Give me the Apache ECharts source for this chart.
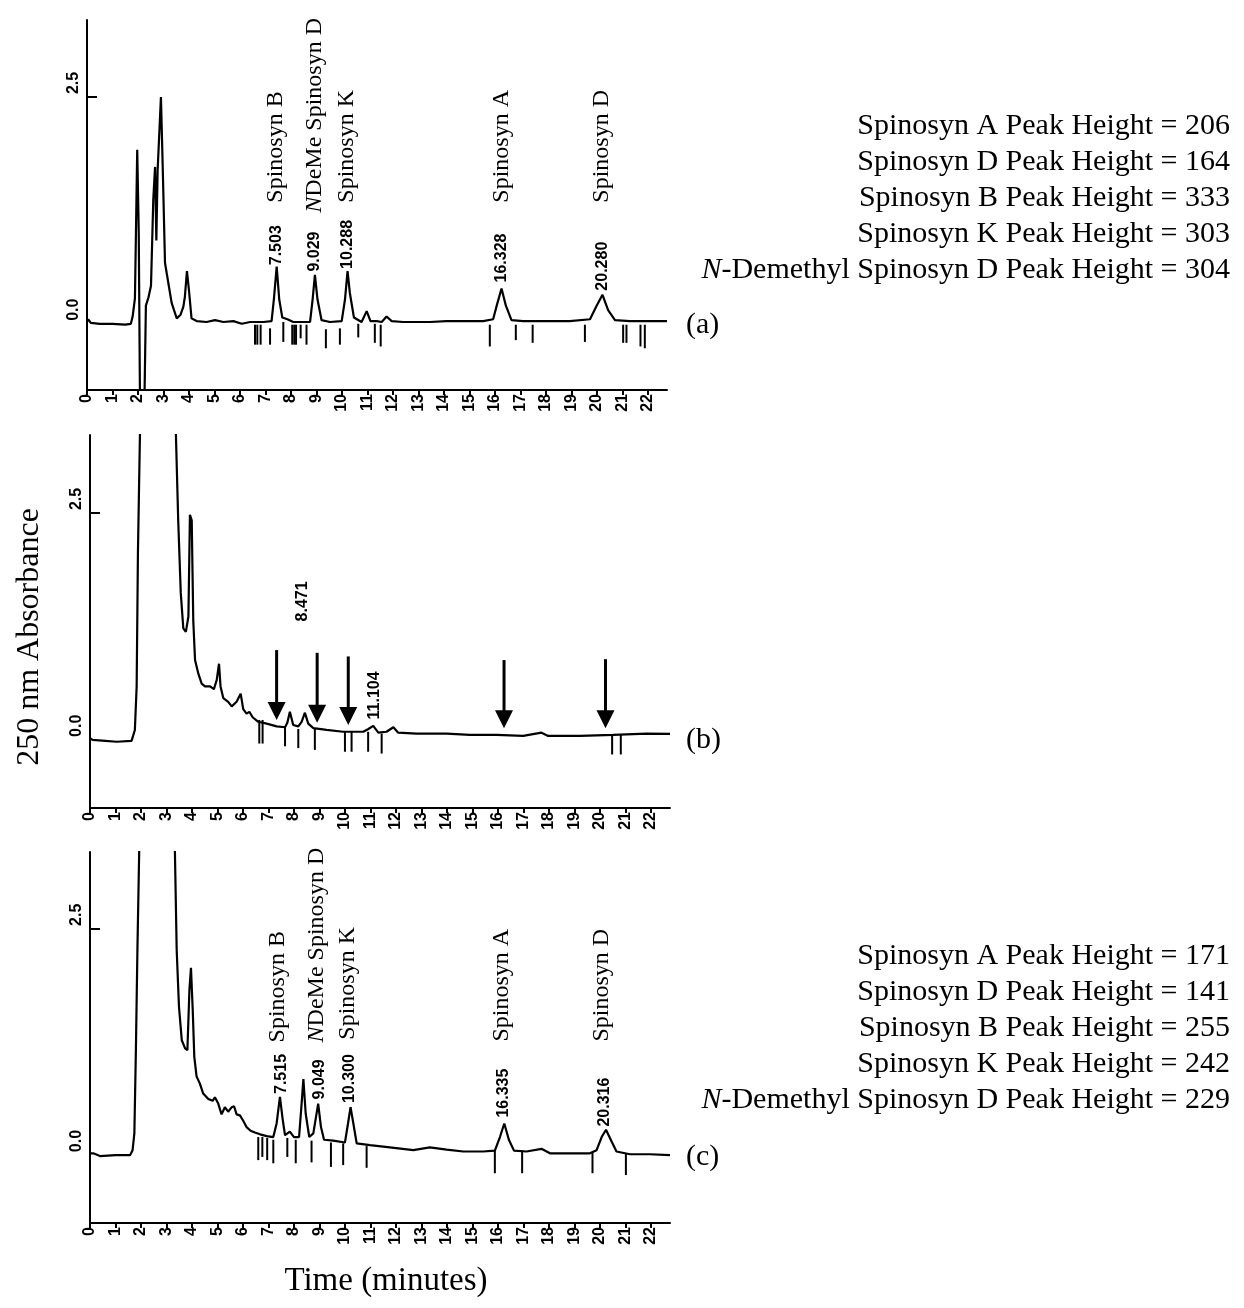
<!DOCTYPE html>
<html>
<head>
<meta charset="utf-8">
<title>Spinosyn HPLC chromatograms</title>
<script src="https://cdn.jsdelivr.net/npm/echarts@6/dist/echarts.min.js"></script>
<style>
  html, body { margin: 0; padding: 0; background: #fff; }
  #chart { width: 1244px; height: 1308px; }
</style>
</head>
<body>
<div id="chart"></div>
<script>
// chromatogram traces: [time (min), absorbance]
var traceA = [[0, 0.02], [0.05, 0.05], [0.15, 0.01], [0.5, 0.0], [1.0, 0.0], [1.5, -0.01], [1.72, 0.0], [1.79, 0.08], [1.88, 0.28], [1.97, 1.92], [2.03, 1.0], [2.08, -0.9], [2.25, -0.9], [2.31, 0.2], [2.41, 0.29], [2.51, 0.42], [2.6, 1.37], [2.67, 1.73], [2.72, 0.92], [2.77, 1.69], [2.9, 2.5], [2.97, 1.73], [3.06, 0.67], [3.19, 0.45], [3.32, 0.23], [3.52, 0.06], [3.67, 0.1], [3.78, 0.19], [3.84, 0.3], [3.92, 0.58], [4.0, 0.37], [4.1, 0.06], [4.3, 0.03], [4.69, 0.02], [5.02, 0.04], [5.35, 0.02], [5.74, 0.03], [6.07, 0.0], [6.4, 0.02], [6.92, 0.02], [7.24, 0.03], [7.33, 0.27], [7.44, 0.63], [7.54, 0.27], [7.66, 0.07], [7.86, 0.05], [8.09, 0.02], [8.75, 0.02], [8.85, 0.27], [8.94, 0.54], [9.04, 0.27], [9.2, 0.04], [9.53, 0.02], [9.99, 0.03], [10.12, 0.27], [10.22, 0.58], [10.31, 0.34], [10.47, 0.07], [10.77, 0.02], [10.97, 0.14], [11.12, 0.03], [11.36, 0.03], [11.56, 0.02], [11.75, 0.08], [11.95, 0.03], [12.4, 0.02], [13.45, 0.02], [14.1, 0.03], [14.76, 0.03], [15.54, 0.03], [15.93, 0.05], [16.07, 0.2], [16.26, 0.39], [16.43, 0.2], [16.65, 0.04], [17.11, 0.03], [18.03, 0.03], [18.94, 0.03], [19.73, 0.05], [19.99, 0.2], [20.22, 0.32], [20.44, 0.15], [20.71, 0.04], [21.29, 0.03], [22.08, 0.03], [22.75, 0.03]];

var traceB = [[0, 0.02], [0.1, 0.0], [0.6, -0.01], [1.05, -0.02], [1.63, -0.01], [1.76, 0.11], [1.83, 0.59], [1.88, 2.06], [1.96, 3.38], [2.1, 5.0], [3.2, 5.0], [3.37, 3.36], [3.46, 2.42], [3.56, 1.62], [3.66, 1.23], [3.76, 1.19], [3.86, 1.36], [3.92, 2.48], [3.99, 2.42], [4.05, 1.32], [4.12, 0.88], [4.25, 0.73], [4.38, 0.62], [4.51, 0.59], [4.71, 0.59], [4.86, 0.56], [4.97, 0.66], [5.06, 0.84], [5.12, 0.59], [5.23, 0.46], [5.42, 0.42], [5.56, 0.37], [5.75, 0.42], [5.91, 0.51], [6.01, 0.34], [6.14, 0.29], [6.25, 0.31], [6.38, 0.25], [6.6, 0.2], [6.93, 0.18], [7.32, 0.15], [7.65, 0.14], [7.74, 0.19], [7.84, 0.31], [7.97, 0.165], [8.17, 0.15], [8.3, 0.2], [8.43, 0.3], [8.56, 0.18], [8.76, 0.13], [9.28, 0.11], [9.93, 0.09], [10.72, 0.09], [10.92, 0.12], [11.11, 0.155], [11.31, 0.08], [11.63, 0.09], [11.9, 0.14], [12.09, 0.08], [12.81, 0.07], [13.99, 0.07], [14.9, 0.055], [15.95, 0.055], [16.99, 0.044], [17.71, 0.08], [17.97, 0.044], [19.22, 0.044], [20.52, 0.055], [21.83, 0.07], [22.75, 0.066]];

var traceC = [[0, 0.02], [0.13, 0.02], [0.39, -0.01], [1.0, 0.0], [1.57, 0.0], [1.67, 0.055], [1.74, 0.24], [1.8, 1.16], [1.86, 2.27], [1.93, 3.36], [2.1, 5.0], [3.2, 5.0], [3.33, 3.36], [3.4, 2.27], [3.49, 1.64], [3.6, 1.27], [3.73, 1.18], [3.82, 1.16], [3.9, 1.83], [3.96, 2.07], [4.03, 1.6], [4.09, 1.09], [4.18, 0.87], [4.31, 0.79], [4.44, 0.68], [4.64, 0.62], [4.81, 0.6], [4.9, 0.64], [5.03, 0.57], [5.16, 0.45], [5.29, 0.53], [5.42, 0.48], [5.56, 0.53], [5.65, 0.54], [5.75, 0.45], [5.88, 0.44], [6.01, 0.38], [6.14, 0.31], [6.3, 0.27], [6.47, 0.25], [6.67, 0.23], [6.93, 0.21], [7.19, 0.2], [7.32, 0.35], [7.45, 0.645], [7.56, 0.39], [7.65, 0.22], [7.84, 0.26], [8.0, 0.2], [8.2, 0.2], [8.29, 0.53], [8.37, 0.84], [8.46, 0.46], [8.6, 0.2], [8.76, 0.24], [8.95, 0.57], [9.06, 0.31], [9.18, 0.17], [9.54, 0.16], [10.0, 0.14], [10.12, 0.35], [10.22, 0.53], [10.33, 0.35], [10.46, 0.13], [10.98, 0.11], [11.76, 0.085], [12.68, 0.055], [13.33, 0.085], [13.99, 0.06], [14.64, 0.04], [15.42, 0.04], [15.88, 0.05], [16.08, 0.2], [16.25, 0.35], [16.43, 0.17], [16.63, 0.05], [17.12, 0.04], [17.71, 0.07], [18.04, 0.02], [18.56, 0.02], [19.61, 0.02], [19.87, 0.055], [20.07, 0.2], [20.24, 0.28], [20.46, 0.15], [20.65, 0.04], [21.18, 0.01], [21.96, 0.01], [22.75, 0.0]];

// integrator event marks under the trace: [time, top, bottom]
var marksA = [[6.59, -0.01, -0.23], [6.68, -0.01, -0.23], [6.81, -0.01, -0.23], [7.18, -0.05, -0.23], [7.7, 0.02, -0.2], [8.05, -0.01, -0.23], [8.13, -0.01, -0.23], [8.2, -0.01, -0.23], [8.38, -0.01, -0.16], [8.61, -0.01, -0.23], [9.37, -0.06, -0.27], [9.92, -0.05, -0.23], [10.64, 0.0, -0.15], [11.29, 0.0, -0.21], [11.52, -0.01, -0.25], [15.8, -0.01, -0.25], [16.82, -0.01, -0.18], [17.48, -0.01, -0.21], [19.53, -0.01, -0.2], [21.03, -0.01, -0.21], [21.16, -0.01, -0.21], [21.71, -0.01, -0.25], [21.88, -0.01, -0.27]];
var marksB = [[6.64, 0.22, -0.04], [6.77, 0.22, -0.04], [7.65, 0.14, -0.07], [8.17, 0.12, -0.09], [8.82, 0.12, -0.11], [10.0, 0.09, -0.13], [10.26, 0.09, -0.13], [10.91, 0.09, -0.13], [11.44, 0.07, -0.15], [20.48, 0.055, -0.16], [20.82, 0.055, -0.16]];
var marksC = [[6.6, 0.2, -0.055], [6.76, 0.2, -0.02], [6.95, 0.19, -0.055], [7.19, 0.17, -0.09], [7.74, 0.19, -0.02], [8.07, 0.17, -0.09], [8.69, 0.16, -0.08], [9.45, 0.14, -0.13], [9.93, 0.13, -0.11], [10.85, 0.1, -0.14], [15.88, 0.05, -0.2], [16.95, 0.05, -0.2], [19.71, 0.03, -0.2], [21.02, 0.02, -0.22]];

// arrows in panel (b): [time, top, tip]
var arrowsB = [[7.32, 0.99, 0.22], [8.91, 0.96, 0.19], [10.13, 0.92, 0.165], [16.24, 0.88, 0.13], [20.22, 0.89, 0.13]];

// retention time labels: [text, time, y]
var rtLabelsA = [['7.503', 7.44, 0.64], ['9.029', 8.94, 0.57], ['10.288', 10.21, 0.6], ['16.328', 16.26, 0.45], ['20.280', 20.21, 0.36]];
var rtLabelsB = [['8.471', 8.35, 1.3], ['11.104', 11.18, 0.22]];
var rtLabelsC = [['7.515', 7.52, 0.67], ['9.049', 8.99, 0.61], ['10.300', 10.2, 0.57], ['16.335', 16.24, 0.41], ['20.316', 20.2, 0.31]];

// compound labels: [text, time, y]
var nameLabelsA = [['Spinosyn B', 7.4, 1.33], ['{i|N}DeMe Spinosyn D', 8.94, 1.22], ['Spinosyn K', 10.18, 1.33], ['Spinosyn A', 16.26, 1.33], ['Spinosyn D', 20.18, 1.33]];
var nameLabelsC = [['Spinosyn B', 7.38, 1.24], ['{i|N}DeMe Spinosyn D', 8.89, 1.24], ['Spinosyn K', 10.09, 1.27], ['Spinosyn A', 16.15, 1.25], ['Spinosyn D', 20.07, 1.25]];

var timeTicks = [0, 1, 2, 3, 4, 5, 6, 7, 8, 9, 10, 11, 12, 13, 14, 15, 16, 17, 18, 19, 20, 21, 22];
var absLabels = [0, 2.5];
var absTicks = [2.5];

var heightsA = ['Spinosyn A Peak Height = 206', 'Spinosyn D Peak Height = 164', 'Spinosyn B Peak Height = 333', 'Spinosyn K Peak Height = 303', '{i|N}-Demethyl Spinosyn D Peak Height = 304'];
var heightsC = ['Spinosyn A Peak Height = 171', 'Spinosyn D Peak Height = 141', 'Spinosyn B Peak Height = 255', 'Spinosyn K Peak Height = 242', '{i|N}-Demethyl Spinosyn D Peak Height = 229'];

var panels = [
  {left: 87, top: 20, height: 370, min: -0.73, max: 3.35},
  {left: 90, top: 435, height: 373, min: -0.75, max: 3.36},
  {left: 90, top: 852, height: 371, min: -0.75, max: 3.35}
];

var SERIF = '"Liberation Serif", "Times New Roman", serif';
var SANS = '"Liberation Sans", Arial, sans-serif';

function renderMark(params, api) {
  var p0 = api.coord([api.value(0), api.value(1)]);
  var p1 = api.coord([api.value(0), api.value(2)]);
  return {
    type: 'line',
    shape: {x1: p0[0], y1: p0[1], x2: p1[0], y2: p1[1]},
    style: {stroke: '#000', lineWidth: 2}
  };
}

function renderArrow(params, api) {
  var top = api.coord([api.value(0), api.value(1)]);
  var tip = api.coord([api.value(0), api.value(2)]);
  var hh = 18, hw = 9;
  return {
    type: 'group',
    children: [
      {type: 'line', shape: {x1: top[0], y1: top[1], x2: tip[0], y2: tip[1] - hh + 2}, style: {stroke: '#000', lineWidth: 3}},
      {type: 'polygon', shape: {points: [[tip[0] - hw, tip[1] - hh], [tip[0] + hw, tip[1] - hh], [tip[0], tip[1]]]}, style: {fill: '#000'}}
    ]
  };
}

function traceSeries(i, data) {
  return {
    type: 'line', xAxisIndex: i, yAxisIndex: i, data: data,
    showSymbol: false, clip: true, silent: true,
    lineStyle: {color: '#000', width: 2.2}
  };
}

function customSeries(i, data, fn) {
  return {
    type: 'custom', xAxisIndex: i, yAxisIndex: i, data: data,
    encode: {x: 0, y: [1, 2]}, renderItem: fn, silent: true, clip: false
  };
}

// invisible points that only carry a rotated text label
function labelSeries(i, rows, font) {
  return {
    type: 'scatter', xAxisIndex: i, yAxisIndex: i, silent: true,
    symbolSize: 1, itemStyle: {color: 'rgba(0,0,0,0)', opacity: 1},
    data: rows.map(function (r) { return {name: r[0], value: [r[1], r[2]]}; }),
    label: {
      show: true, position: 'top', distance: 0, formatter: '{b}', rotate: 90,
      align: 'left', verticalAlign: 'middle', color: '#000', opacity: 1, textBorderWidth: 0,
      fontFamily: font.family, fontSize: font.size, fontWeight: font.weight,
      rich: {i: {fontFamily: font.family, fontSize: font.size, fontStyle: 'italic', color: '#000'}}
    }
  };
}

var rtFont = {family: SANS, size: 16, weight: 'bold'};
var nameFont = {family: SERIF, size: 24, weight: 'normal'};

var option = {
  animation: false,
  backgroundColor: '#fff',
  grid: panels.map(function (p) {
    return {left: p.left, top: p.top, width: 580, height: p.height, outerBoundsMode: 'none'};
  }),
  xAxis: panels.map(function (p, i) {
    return {
      type: 'value', gridIndex: i, min: 0, max: 22.75,
      axisLine: {onZero: false, lineStyle: {color: '#000', width: 2}},
      axisTick: {show: true, customValues: timeTicks, length: 5, lineStyle: {color: '#000', width: 2}},
      axisLabel: {
        customValues: timeTicks, rotate: 90, margin: 4, color: '#000',
        fontFamily: SANS, fontWeight: 'bold', fontSize: 16
      },
      splitLine: {show: false}
    };
  }),
  yAxis: panels.map(function (p, i) {
    return {
      type: 'value', gridIndex: i, min: p.min, max: p.max,
      axisLine: {show: true, onZero: false, lineStyle: {color: '#000', width: 2}},
      axisTick: {show: true, inside: true, customValues: absTicks, length: 10, lineStyle: {color: '#000', width: 2}},
      axisLabel: {
        customValues: absLabels, rotate: 90, margin: 5, color: '#000',
        align: 'left', padding: [0, 0, 0, 3],
        fontFamily: SANS, fontWeight: 'bold', fontSize: 16,
        formatter: function (v) { return v.toFixed(1); }
      },
      splitLine: {show: false}
    };
  }),
  series: [
    traceSeries(0, traceA),
    traceSeries(1, traceB),
    traceSeries(2, traceC),
    customSeries(0, marksA, renderMark),
    customSeries(1, marksB, renderMark),
    customSeries(2, marksC, renderMark),
    customSeries(1, arrowsB, renderArrow),
    labelSeries(0, rtLabelsA, rtFont),
    labelSeries(1, rtLabelsB, rtFont),
    labelSeries(2, rtLabelsC, rtFont),
    labelSeries(0, nameLabelsA, nameFont),
    labelSeries(2, nameLabelsC, nameFont)
  ],
  graphic: [
    {
      type: 'text', x: 1230, y: 108, silent: true,
      style: {
        text: heightsA.join('\n'), fill: '#000', fontFamily: SERIF, fontSize: 30,
        align: 'right', textAlign: 'right', verticalAlign: 'top', textVerticalAlign: 'top', lineHeight: 36,
        rich: {i: {fontFamily: SERIF, fontSize: 30, fontStyle: 'italic', lineHeight: 36}}
      }
    },
    {
      type: 'text', x: 1230, y: 938, silent: true,
      style: {
        text: heightsC.join('\n'), fill: '#000', fontFamily: SERIF, fontSize: 30,
        align: 'right', textAlign: 'right', verticalAlign: 'top', textVerticalAlign: 'top', lineHeight: 36,
        rich: {i: {fontFamily: SERIF, fontSize: 30, fontStyle: 'italic', lineHeight: 36}}
      }
    },
    {type: 'text', x: 686, y: 325, silent: true, style: {text: '(a)', fill: '#000', fontFamily: SERIF, fontSize: 30, align: 'left', verticalAlign: 'middle'}},
    {type: 'text', x: 686, y: 740, silent: true, style: {text: '(b)', fill: '#000', fontFamily: SERIF, fontSize: 30, align: 'left', verticalAlign: 'middle'}},
    {type: 'text', x: 686, y: 1157, silent: true, style: {text: '(c)', fill: '#000', fontFamily: SERIF, fontSize: 30, align: 'left', verticalAlign: 'middle'}},
    {type: 'text', x: 30, y: 637, rotation: Math.PI / 2, silent: true, style: {text: '250 nm Absorbance', fill: '#000', fontFamily: SERIF, fontSize: 32, align: 'center', verticalAlign: 'middle'}},
    {type: 'text', x: 386, y: 1281, silent: true, style: {text: 'Time (minutes)', fill: '#000', fontFamily: SERIF, fontSize: 33, align: 'center', verticalAlign: 'middle'}}
  ]
};

var chart = echarts.init(document.getElementById('chart'));
chart.setOption(option);
</script>
</body>
</html>
